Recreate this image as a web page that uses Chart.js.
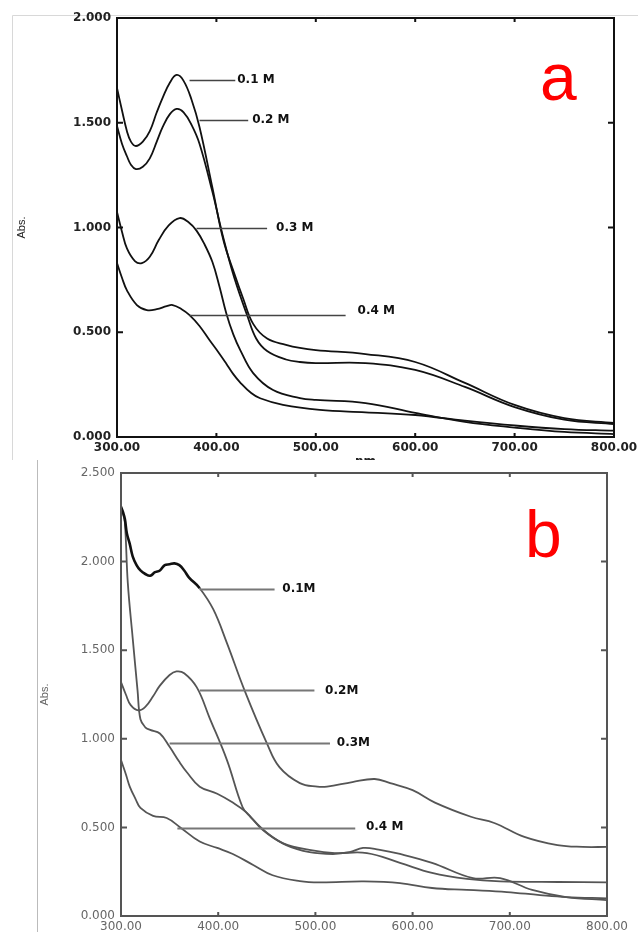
<!DOCTYPE html>
<html>
<head>
<meta charset="utf-8">
<title>Absorbance spectra a / b</title>
<script src="https://cdn.jsdelivr.net/npm/chart.js@4.4.1/dist/chart.umd.min.js"></script>
<style>
    html, body { margin: 0; padding: 0; background: #fff; }
    body { width: 638px; height: 932px; position: relative; overflow: hidden; }
    canvas { position: absolute; left: 0; }
    #chartA { top: 0; }
    #chartB { top: 460px; }
</style>
</head>
<body>
<canvas id="chartA" width="638" height="475"></canvas>
<canvas id="chartB" width="638" height="472"></canvas>
<script>
// ---- panel a (nm / Abs.) ----
const aWl01  = [300, 305, 310, 314, 319, 326, 333, 340, 346, 353, 360, 367, 375, 383, 396, 407, 418, 427, 437, 451, 470, 484, 500, 550, 600, 650, 700, 750, 800];
const aAbs01 = [1.666, 1.56, 1.46, 1.41, 1.389, 1.41, 1.46, 1.55, 1.62, 1.69, 1.728, 1.70, 1.61, 1.48, 1.19, 0.94, 0.78, 0.66, 0.54, 0.47, 0.44, 0.425, 0.415, 0.396, 0.358, 0.258, 0.153, 0.09, 0.067];
const aWl02  = [300, 305, 310, 314, 319, 326, 333, 340, 346, 353, 360, 367, 375, 383, 396, 407, 418, 431, 440, 451, 470, 484, 500, 550, 600, 650, 700, 750, 800];
const aAbs02 = [1.484, 1.40, 1.34, 1.30, 1.279, 1.29, 1.33, 1.41, 1.48, 1.54, 1.566, 1.55, 1.49, 1.40, 1.17, 0.95, 0.76, 0.58, 0.47, 0.41, 0.37, 0.358, 0.353, 0.353, 0.32, 0.239, 0.143, 0.083, 0.062];
const aWl03  = [300, 305, 310, 318, 325, 333, 342, 352, 363, 372, 380, 388, 396, 403, 410, 417, 424, 437, 457, 484, 500, 550, 600, 650, 700, 750, 800];
const aAbs03 = [1.074, 0.98, 0.90, 0.84, 0.83, 0.86, 0.94, 1.01, 1.045, 1.025, 0.985, 0.92, 0.835, 0.72, 0.59, 0.49, 0.415, 0.305, 0.224, 0.186, 0.177, 0.162, 0.115, 0.072, 0.045, 0.024, 0.014];
const aWl04  = [300, 305, 310, 320, 330, 340, 350, 356, 365, 373, 383, 393, 402, 410, 417, 424, 435, 444, 467, 504, 550, 600, 650, 700, 750, 800];
const aAbs04 = [0.83, 0.76, 0.70, 0.63, 0.606, 0.61, 0.625, 0.63, 0.61, 0.582, 0.53, 0.463, 0.405, 0.35, 0.30, 0.26, 0.21, 0.185, 0.153, 0.129, 0.118, 0.105, 0.078, 0.055, 0.038, 0.03];

// ---- panel b ----
const bWl01  = [300, 302, 304, 306, 309, 312, 316, 320, 325, 330, 335, 340, 345, 350, 355, 360, 365, 370, 381, 395, 409, 427, 450, 463, 484, 502, 512, 538, 561, 577, 600, 623, 660, 684, 715, 749, 775, 800];
const bAbs01 = [2.31, 2.28, 2.24, 2.16, 2.10, 2.03, 1.98, 1.95, 1.93, 1.92, 1.94, 1.95, 1.98, 1.985, 1.99, 1.98, 1.95, 1.91, 1.85, 1.73, 1.54, 1.275, 0.976, 0.84, 0.75, 0.73, 0.73, 0.756, 0.773, 0.75, 0.71, 0.64, 0.56, 0.525, 0.446, 0.40, 0.39, 0.39];
const bWl02  = [300, 305, 310, 318, 325, 333, 340, 350, 357, 365, 378, 391, 409, 425, 433, 450, 470, 494, 518, 535, 549, 565, 587, 620, 662, 690, 723, 758, 800];
const bAbs02 = [1.32, 1.25, 1.19, 1.16, 1.18, 1.24, 1.30, 1.36, 1.38, 1.37, 1.29, 1.12, 0.88, 0.615, 0.56, 0.47, 0.40, 0.36, 0.35, 0.36, 0.384, 0.375, 0.35, 0.30, 0.214, 0.214, 0.147, 0.107, 0.09];
const bWl03  = [300, 302, 304, 307, 312, 317, 320, 325, 330, 340, 350, 360, 368, 381, 399, 415, 429, 446, 467, 497, 520, 553, 587, 620, 656, 690, 750, 800];
const bAbs03 = [2.29, 2.27, 2.22, 1.88, 1.57, 1.275, 1.11, 1.065, 1.05, 1.03, 0.955, 0.87, 0.81, 0.73, 0.69, 0.64, 0.585, 0.485, 0.41, 0.37, 0.355, 0.355, 0.30, 0.243, 0.209, 0.195, 0.192, 0.19];
const bWl04  = [300, 305, 309, 315, 320, 333, 347, 361, 381, 399, 415, 436, 456, 484, 505, 550, 587, 620, 656, 697, 731, 758, 800];
const bAbs04 = [0.88, 0.80, 0.73, 0.66, 0.61, 0.565, 0.553, 0.50, 0.42, 0.384, 0.35, 0.288, 0.23, 0.197, 0.19, 0.195, 0.186, 0.158, 0.147, 0.135, 0.118, 0.107, 0.10];

const seriesNames = ["0.1 M", "0.2 M", "0.3 M", "0.4 M"];
const xTicks = [300, 400, 500, 600, 700, 800];

// leader lines + labels, in nm / Abs units
const aNotes = [
    { text: "0.1 M", from: 373, to: 419, abs: 1.704, at: 421, textAbs: 1.704 },
    { text: "0.2 M", from: 383, to: 432, abs: 1.513, at: 436, textAbs: 1.513 },
    { text: "0.3 M", from: 380, to: 451, abs: 0.998, at: 460, textAbs: 0.998 },
    { text: "0.4 M", from: 373, to: 530, abs: 0.582, at: 542, textAbs: 0.602 }
];
const bNotes = [
    { text: "0.1M",  from: 381, to: 458, abs: 1.845, at: 466, textAbs: 1.845 },
    { text: "0.2M",  from: 381, to: 499, abs: 1.275, at: 510, textAbs: 1.272 },
    { text: "0.3M",  from: 350, to: 515, abs: 0.976, at: 522, textAbs: 0.976 },
    { text: "0.4 M", from: 358, to: 541, abs: 0.497, at: 552, textAbs: 0.502 }
];

const SANS = "'DejaVu Sans', sans-serif";
const pts = (wl, abs) => wl.map((x, i) => ({ x, y: abs[i] }));

const frame = {
    id: "frame",
    beforeDraw(chart, args, o) {
        const { ctx, width, height } = chart;
        ctx.save();
        ctx.fillStyle = "#fff";
        ctx.fillRect(0, 0, width, height);
        ctx.strokeStyle = o.edgeColor;
        ctx.lineWidth = 1;
        ctx.beginPath();
        o.edges.forEach(([x1, y1, x2, y2]) => { ctx.moveTo(x1, y1); ctx.lineTo(x2, y2); });
        ctx.stroke();
        ctx.restore();
    },
    afterDatasetsDraw(chart, args, o) {
        const { ctx, chartArea: { left, right, top, bottom }, scales: { x, y } } = chart;
        ctx.save();
        ctx.strokeStyle = o.axisColor;
        ctx.lineWidth = 2;
        ctx.strokeRect(left, top, right - left, bottom - top);
        ctx.beginPath();
        x.ticks.forEach(t => {
            const px = x.getPixelForValue(t.value);
            ctx.moveTo(px, top); ctx.lineTo(px, top + 4);
            ctx.moveTo(px, bottom); ctx.lineTo(px, bottom - 4);
        });
        y.ticks.forEach(t => {
            const py = y.getPixelForValue(t.value);
            ctx.moveTo(left, py); ctx.lineTo(left + 6, py);
            ctx.moveTo(right, py); ctx.lineTo(right - 6, py);
        });
        ctx.stroke();

        ctx.strokeStyle = o.leaderColor;
        ctx.lineWidth = o.leaderWidth;
        ctx.fillStyle = "#111";
        ctx.font = "bold 12px " + SANS;
        ctx.textBaseline = "middle";
        o.notes.forEach(n => {
            const py = Math.round(y.getPixelForValue(n.abs)) + 0.5;
            ctx.beginPath();
            ctx.moveTo(x.getPixelForValue(n.from), py);
            ctx.lineTo(x.getPixelForValue(n.to), py);
            ctx.stroke();
            ctx.fillText(n.text, x.getPixelForValue(n.at), y.getPixelForValue(n.textAbs));
        });

        ctx.fillStyle = "#ff0000";
        ctx.font = "66px 'Liberation Sans', Arial, sans-serif";
        ctx.textBaseline = "alphabetic";
        ctx.fillText(o.letter.text, o.letter.x, o.letter.y);
        ctx.restore();
    }
};

function makeChart(id, sets, opts) {
    return new Chart(document.getElementById(id), {
        type: "line",
        data: { datasets: sets },
        options: {
            responsive: false, animation: false, events: [],
            layout: { padding: opts.padding },
            plugins: { legend: { display: false }, tooltip: { enabled: false }, frame: opts.frame },
            scales: {
                x: {
                    type: "linear", min: 300, max: 800,
                    grid: { display: false, drawTicks: false }, border: { display: false },
                    afterBuildTicks: s => { s.ticks = xTicks.map(v => ({ value: v })); },
                    ticks: { callback: v => v.toFixed(2), autoSkip: false, maxRotation: 0, padding: 4,
                             color: opts.tickColor, font: { family: SANS, size: 12, weight: opts.tickWeight } },
                    title: opts.xTitle,
                    afterFit: s => { s.height = opts.xHeight; s.paddingLeft = 0; s.paddingRight = 0; }
                },
                y: {
                    min: 0, max: opts.yMax,
                    grid: { display: false, drawTicks: false }, border: { display: false },
                    ticks: { stepSize: 0.5, callback: v => v.toFixed(3), padding: 6,
                             color: opts.tickColor, font: { family: SANS, size: 12, weight: opts.tickWeight } },
                    title: { display: true, text: "Abs.", color: opts.tickColor,
                             font: { family: "'Liberation Sans Narrow', 'Liberation Sans', sans-serif", size: 11 },
                             padding: { top: opts.absPad, bottom: 0 } },
                    afterFit: s => { s.width = opts.yWidth; s.paddingTop = 0; s.paddingBottom = 0; }
                }
            }
        },
        plugins: [frame]
    });
}

const lineA = { borderColor: "#111", borderWidth: 1.8, pointRadius: 0, tension: 0.4, fill: false };
makeChart("chartA", [
    { ...lineA, label: seriesNames[0], data: pts(aWl01, aAbs01) },
    { ...lineA, label: seriesNames[1], data: pts(aWl02, aAbs02) },
    { ...lineA, label: seriesNames[2], data: pts(aWl03, aAbs03) },
    { ...lineA, label: seriesNames[3], data: pts(aWl04, aAbs04) }
], {
    padding: { left: 0, top: 18, right: 24, bottom: 0 },
    yMax: 2, yWidth: 117, xHeight: 38, absPad: 15,
    tickColor: "#222", tickWeight: "bold",
    xTitle: { display: true, text: "nm", color: "#222", font: { family: SANS, size: 12, weight: "bold" }, padding: { top: 0, bottom: 6 } },
    frame: { axisColor: "#111", leaderColor: "#444", leaderWidth: 1.5, notes: aNotes,
             edgeColor: "#d8d8d8", edges: [[12.5, 15.5, 638, 15.5], [12.5, 15.5, 12.5, 475]],
             letter: { text: "a", x: 540, y: 100 } }
});

const lineB = { borderColor: "#555", borderWidth: 1.8, pointRadius: 0, tension: 0.4, fill: false };
makeChart("chartB", [
    { ...lineB, label: seriesNames[0], data: pts(bWl01, bAbs01),
      segment: { borderColor: c => c.p0.parsed.x < 372 ? "#111" : "#555", borderWidth: c => c.p0.parsed.x < 372 ? 2.6 : 1.8 } },
    { ...lineB, label: seriesNames[1], data: pts(bWl02, bAbs02) },
    { ...lineB, label: seriesNames[2], data: pts(bWl03, bAbs03) },
    { ...lineB, label: seriesNames[3], data: pts(bWl04, bAbs04) }
], {
    padding: { left: 0, top: 13, right: 31, bottom: 0 },
    yMax: 2.5, yWidth: 121, xHeight: 16, absPad: 38,
    tickColor: "#666", tickWeight: "normal",
    xTitle: { display: false },
    frame: { axisColor: "#555", leaderColor: "#777", leaderWidth: 2, notes: bNotes,
             edgeColor: "#bbb", edges: [[37.5, 0, 37.5, 472]],
             letter: { text: "b", x: 525, y: 97 } }
});
</script>
</body>
</html>
